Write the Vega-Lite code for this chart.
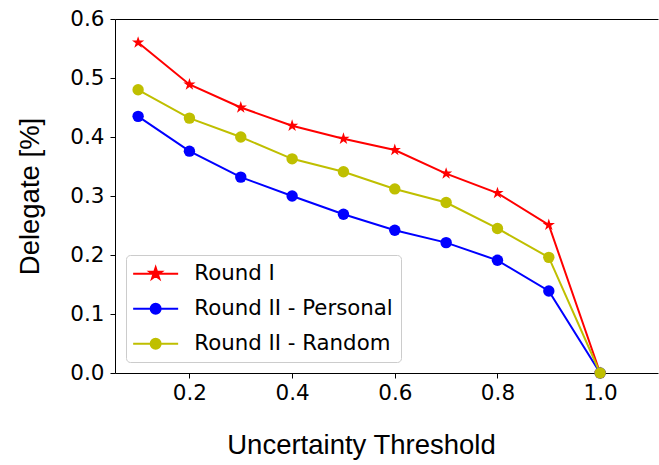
{
  "$schema": "https://vega.github.io/schema/vega-lite/v6.json",
  "width": 543,
  "height": 354,
  "autosize": {"type": "none"},
  "padding": {"left": 115, "top": 19, "right": 1, "bottom": 92},
  "background": "white",
  "config": {
    "view": {"stroke": null},
    "axis": {
      "domainColor": "black",
      "tickColor": "black",
      "labelColor": "black",
      "titleColor": "black",
      "labelFont": "DejaVu Sans",
      "labelFontSize": 21.5,
      "titleFont": "Liberation Sans",
      "titleFontSize": 27.5,
      "titleFontWeight": "normal",
      "tickSize": 5,
      "grid": false
    }
  },
  "data": {
    "values": [
      {"t": 0.1, "v": 0.560, "s": "Round I"},
      {"t": 0.2, "v": 0.489, "s": "Round I"},
      {"t": 0.3, "v": 0.450, "s": "Round I"},
      {"t": 0.4, "v": 0.419, "s": "Round I"},
      {"t": 0.5, "v": 0.397, "s": "Round I"},
      {"t": 0.6, "v": 0.378, "s": "Round I"},
      {"t": 0.7, "v": 0.338, "s": "Round I"},
      {"t": 0.8, "v": 0.305, "s": "Round I"},
      {"t": 0.9, "v": 0.251, "s": "Round I"},
      {"t": 1.0, "v": 0.0, "s": "Round I"},
      {"t": 0.1, "v": 0.435, "s": "Round II - Personal"},
      {"t": 0.2, "v": 0.376, "s": "Round II - Personal"},
      {"t": 0.3, "v": 0.332, "s": "Round II - Personal"},
      {"t": 0.4, "v": 0.300, "s": "Round II - Personal"},
      {"t": 0.5, "v": 0.269, "s": "Round II - Personal"},
      {"t": 0.6, "v": 0.242, "s": "Round II - Personal"},
      {"t": 0.7, "v": 0.221, "s": "Round II - Personal"},
      {"t": 0.8, "v": 0.191, "s": "Round II - Personal"},
      {"t": 0.9, "v": 0.139, "s": "Round II - Personal"},
      {"t": 1.0, "v": 0.0, "s": "Round II - Personal"},
      {"t": 0.1, "v": 0.480, "s": "Round II - Random"},
      {"t": 0.2, "v": 0.432, "s": "Round II - Random"},
      {"t": 0.3, "v": 0.400, "s": "Round II - Random"},
      {"t": 0.4, "v": 0.363, "s": "Round II - Random"},
      {"t": 0.5, "v": 0.341, "s": "Round II - Random"},
      {"t": 0.6, "v": 0.312, "s": "Round II - Random"},
      {"t": 0.7, "v": 0.289, "s": "Round II - Random"},
      {"t": 0.8, "v": 0.245, "s": "Round II - Random"},
      {"t": 0.9, "v": 0.196, "s": "Round II - Random"},
      {"t": 1.0, "v": 0.0, "s": "Round II - Random"}
    ]
  },
  "layer": [
    {
      "mark": {"type": "line", "strokeWidth": 2},
      "encoding": {
        "x": {
          "field": "t", "type": "quantitative",
          "scale": {"domain": [0.055, 1.1127], "nice": false, "zero": false},
          "axis": {"values": [0.2, 0.4, 0.6, 0.8, 1.0], "format": ".1f", "labelPadding": 4, "title": "Uncertainty Threshold", "titlePadding": 28, "titleX": 246, "titleAnchor": "middle"}
        },
        "y": {
          "field": "v", "type": "quantitative",
          "scale": {"domain": [0, 0.6], "nice": false},
          "axis": {"values": [0, 0.1, 0.2, 0.3, 0.4, 0.5, 0.6], "format": ".1f", "labelPadding": 6, "title": "Delegate [%]", "titlePadding": 25}
        },
        "color": {
          "field": "s", "type": "nominal",
          "scale": {"domain": ["Round I", "Round II - Personal", "Round II - Random"], "range": ["#ff0000", "#0000ff", "#bfbf00"]},
          "legend": {
            "orient": "none",
            "legendX": 11,
            "legendY": 236,
            "title": null,
            "padding": 8,
            "fillColor": "rgba(255,255,255,0.8)",
            "strokeColor": "#cccccc",
            "cornerRadius": 4,
            "labelFont": "DejaVu Sans",
            "labelFontSize": 21.3,
            "labelColor": "black",
            "labelOffset": 39,
            "labelLimit": 400,
            "symbolSize": 100,
            "symbolStrokeWidth": 2,
            "rowPadding": 13,
            "symbolType": "M-2.3,0L6.7,0M1.2,0A1,1,0,1,0,3.2,0A1,1,0,1,0,1.2,0Z",
            "encode": {
              "symbols": {
                "update": {
                  "shape": {"signal": "datum.value === 'Round I' ? 'M-2.3,0L6.7,0M2.2,-1.25L2.48,-0.386L3.389,-0.386L2.654,0.148L2.935,1.011L2.2,0.477L1.465,1.011L1.746,0.148L1.011,-0.386L1.92,-0.386Z' : 'M-2.3,0L6.7,0M1.2,0A1,1,0,1,0,3.2,0A1,1,0,1,0,1.2,0Z'"},
                  "fill": {"signal": "scale('color', datum.value)"},
                  "stroke": {"signal": "scale('color', datum.value)"},
                  "opacity": {"value": 1}
                }
              }
            }
          }
        }
      }
    },
    {
      "transform": [{"filter": "datum.s === 'Round I'"}],
      "mark": {"type": "point", "filled": true, "opacity": 1, "size": 165, "strokeWidth": 0, "shape": "M0,-1L0.2245,-0.309L0.9511,-0.309L0.3633,0.118L0.5878,0.809L0,0.382L-0.5878,0.809L-0.3633,0.118L-0.9511,-0.309L-0.2245,-0.309Z"},
      "encoding": {
        "x": {
          "field": "t", "type": "quantitative",
          "axis": {"orient": "top", "labels": false, "ticks": false, "title": null, "domain": true}
        },
        "y": {"field": "v", "type": "quantitative"},
        "fill": {
          "field": "s", "type": "nominal",
          "scale": {"domain": ["Round I", "Round II - Personal", "Round II - Random"], "range": ["#ff0000", "#0000ff", "#bfbf00"]},
          "legend": null
        }
      }
    },
    {
      "transform": [{"filter": "datum.s !== 'Round I'"}],
      "mark": {"type": "point", "filled": true, "opacity": 1, "size": 130, "strokeWidth": 0, "shape": "circle"},
      "encoding": {
        "x": {"field": "t", "type": "quantitative", "axis": null},
        "y": {"field": "v", "type": "quantitative"},
        "fill": {
          "field": "s", "type": "nominal",
          "legend": null
        }
      }
    }
  ],
  "resolve": {"axis": {"x": "independent"}}
}
